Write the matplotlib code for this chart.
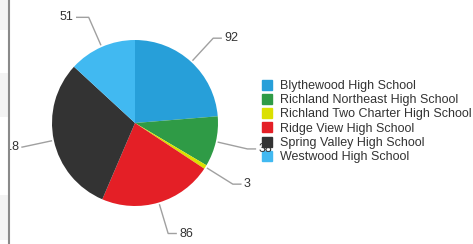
import numpy as np
import matplotlib
matplotlib.use("Agg")
import matplotlib.pyplot as plt
from matplotlib.patches import Rectangle
from matplotlib.lines import Line2D

plt.rcParams["font.family"] = ["Liberation Sans", "DejaVu Sans"]

# data
schools = [
    "Blythewood High School",
    "Richland Northeast High School",
    "Richland Two Charter High School",
    "Ridge View High School",
    "Spring Valley High School",
    "Westwood High School",
]
counts = [92, 38, 3, 86, 118, 51]
colors = ["#279fd9", "#2f9b46", "#dbe000", "#e41f26", "#333333", "#41b9f1"]

W, H = 473, 244
fig = plt.figure(figsize=(W / 100, H / 100), dpi=100)
fig.patch.set_facecolor("white")

# left strip of the page (grey bands + divider line)
for y0, y1 in [(0, 30), (73, 117), (195, 240)]:
    fig.add_artist(Rectangle((0, 1 - y1 / H), 8 / W, (y1 - y0) / H,
                             transform=fig.transFigure, color="#f3f3f3", lw=0, zorder=0))
fig.add_artist(Line2D([9 / W, 9 / W], [0, 1], transform=fig.transFigure,
                      color="#8a8a8a", lw=1.5, zorder=5))

# axes in pixel units, starting right of the divider
left = 10
ax = fig.add_axes([left / W, 0, 1 - left / W, 1])
cx, cy, R = 135, 123, 83
xmin = -(cx - left)

wedges, _ = ax.pie(counts, colors=colors, startangle=90, counterclock=False,
                   radius=R, center=(0, 0), wedgeprops=dict(linewidth=0))

ax.set_xlim(xmin, W - cx)
ax.set_ylim(-(H - cy), cy)
ax.set_aspect("equal")
ax.axis("off")

# leader lines + value labels
for w, v in zip(wedges, counts):
    th = np.deg2rad((w.theta1 + w.theta2) / 2)
    c, s = np.cos(th), np.sin(th)
    x0, y0 = 1.03 * R * c, 1.03 * R * s
    x1, y1 = 1.39 * R * c, 1.39 * R * s
    d = 1 if c >= 0 else -1
    seg = 8 if d > 0 else min(12, max(0, x1 - xmin - 12))
    x2 = x1 + d * seg
    gap = 3 if seg > 0 else 8
    ax.plot([x0, x1, x2], [y0, y1, y1], color="#a0a0a0", lw=1, clip_on=False)
    ax.text(x2 + d * gap, y1, str(v), ha="left" if d > 0 else "right", va="center",
            fontsize=9, color="#333333", clip_on=True, zorder=7)

handles = [Line2D([], [], marker="s", linestyle="none", markersize=6.5,
                  markerfacecolor=col, markeredgecolor=col) for col in colors]
leg = ax.legend(handles, schools, loc="upper left",
                bbox_to_anchor=(262 / W, 1 - 80 / H), bbox_transform=fig.transFigure,
                frameon=False, fontsize=9, handlelength=0.8, handletextpad=0.6,
                labelspacing=0.18, borderpad=0, borderaxespad=0)
leg.set_zorder(5)
for t in leg.get_texts():
    t.set_color("#333333")

fig.savefig("out.png", dpi=100, facecolor="white")
